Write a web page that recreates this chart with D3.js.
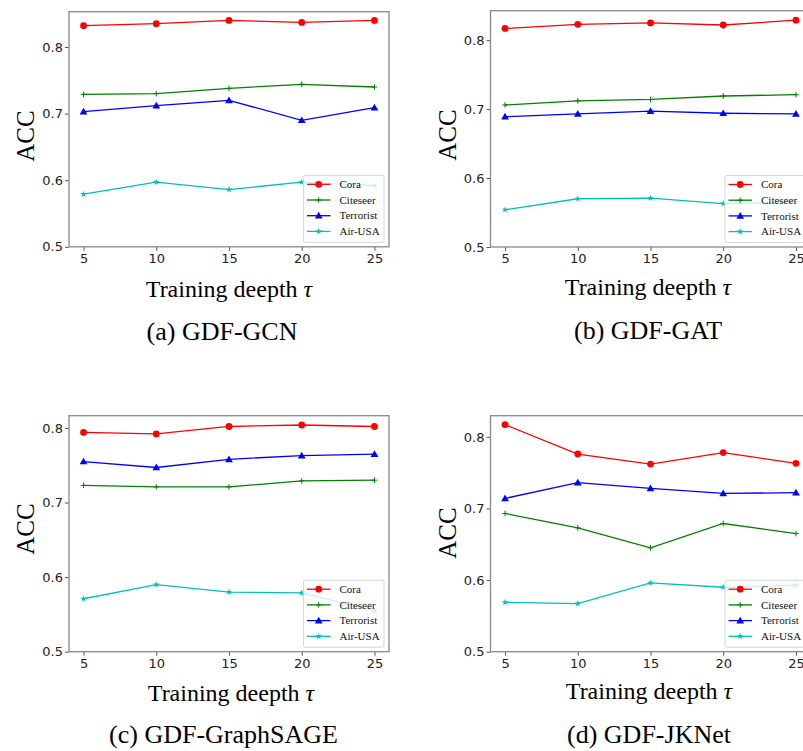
<!DOCTYPE html>
<html>
<head>
<meta charset="utf-8">
<script src="https://cdn.jsdelivr.net/npm/d3@7"></script>
<style>
  body { margin: 0; background: #fff; }
  svg { display: block; }
</style>
</head>
<body>
<svg width="803" height="751"></svg>
<script>
// 데이터: 학습 깊이(tau)별 정확도
var taus = [5, 10, 15, 20, 25];
var datasets = ["Cora", "Citeseer", "Terrorist", "Air-USA"];
var yTickValues = [0.5, 0.6, 0.7, 0.8];
var captions = ["(a) GDF-GCN", "(b) GDF-GAT", "(c) GDF-GraphSAGE", "(d) GDF-JKNet"];

// 각 행은 datasets 순서 (Cora, Citeseer, Terrorist, Air-USA)
var gcnAcc = [
  [0.832, 0.835, 0.840, 0.837, 0.840],
  [0.729, 0.730, 0.738, 0.744, 0.740],
  [0.703, 0.712, 0.720, 0.690, 0.709],
  [0.579, 0.597, 0.586, 0.597, 0.592]
];
var gatAcc = [
  [0.817, 0.823, 0.825, 0.822, 0.829],
  [0.706, 0.712, 0.714, 0.719, 0.721],
  [0.689, 0.693, 0.697, 0.694, 0.693],
  [0.554, 0.570, 0.571, 0.563, 0.565]
];
var sageAcc = [
  [0.794, 0.792, 0.802, 0.804, 0.802],
  [0.723, 0.721, 0.721, 0.729, 0.730],
  [0.755, 0.747, 0.758, 0.763, 0.765],
  [0.571, 0.590, 0.580, 0.579, 0.555]
];
var jkAcc = [
  [0.817, 0.776, 0.762, 0.778, 0.763],
  [0.693, 0.673, 0.645, 0.679, 0.665],
  [0.714, 0.736, 0.728, 0.721, 0.722],
  [0.569, 0.567, 0.596, 0.590, 0.593]
];

var colors = ["#ff0000", "#008000", "#0000ff", "#00bfbf"];

var svg = d3.select("svg");
svg.append("rect").attr("width", 803).attr("height", 751).attr("fill", "#fff");

// 패널 위치 (픽셀)
var panels = [
  {vals: gcnAcc,  left: 69,    right: 389,   top: 11.7,  bottom: 246.8, accY: 136, labX: 229, labY: 296.5, capX: 222, capY: 340},
  {vals: gatAcc,  left: 490.5, right: 810.5, top: 10.7,  bottom: 247,   accY: 135, labX: 648, labY: 295,   capX: 648, capY: 339},
  {vals: sageAcc, left: 69,    right: 389,   top: 415.7, bottom: 651.7, accY: 529, labX: 231, labY: 700.5, capX: 223.5, capY: 743},
  {vals: jkAcc,   left: 490.5, right: 810.5, top: 415.7, bottom: 651.7, accY: 533, labX: 649, labY: 699,   capX: 649, capY: 742.5}
];

// 마커 그리기
function drawMarker(g, k, x, y) {
  var c = colors[k];
  if (k === 0) {
    g.append("circle").attr("cx", x).attr("cy", y).attr("r", 3.4).attr("fill", c);
  } else if (k === 1) {
    g.append("path")
      .attr("d", "M" + (x - 2.8) + "," + y + "H" + (x + 2.8) + "M" + x + "," + (y - 2.8) + "V" + (y + 2.8))
      .attr("stroke", c).attr("stroke-width", 1);
  } else if (k === 2) {
    g.append("path")
      .attr("d", d3.symbol().type(d3.symbolTriangle).size(26)())
      .attr("transform", "translate(" + x + "," + (y + 0.6) + ")")
      .attr("fill", c);
  } else {
    g.append("path")
      .attr("d", d3.symbol().type(d3.symbolStar).size(14)())
      .attr("transform", "translate(" + x + "," + y + ")")
      .attr("fill", c);
  }
}

panels.forEach(function(p, i) {
  var all = [].concat.apply([], p.vals);
  var ymax = d3.max(all), ymin = d3.min(all);
  var yTop = ymax + 0.05 * (ymax - ymin);

  var xScale = d3.scaleLinear().domain([4, 26]).range([p.left, p.right]);
  var yScale = d3.scaleLinear().domain([0.5, yTop]).range([p.bottom, p.top]);

  var g = svg.append("g");

  // 축
  var xAxis = d3.axisBottom(xScale).tickValues(taus).tickSize(4).tickPadding(3).tickFormat(d3.format("d"));
  var yAxis = d3.axisLeft(yScale).tickValues(yTickValues).tickSize(4).tickPadding(2).tickFormat(d3.format(".1f"));

  var gx = g.append("g").attr("transform", "translate(0," + p.bottom + ")").call(xAxis);
  var gy = g.append("g").attr("transform", "translate(" + p.left + ",0)").call(yAxis);
  [gx, gy].forEach(function(ax) {
    ax.select(".domain").remove();
    ax.selectAll("line").attr("stroke", "#555").attr("stroke-width", 1);
    ax.selectAll("text").attr("font-family", "DejaVu Sans").attr("font-size", 13).attr("fill", "#222");
  });

  // 선과 마커
  var line = d3.line()
    .x(function(d, j) { return xScale(taus[j]); })
    .y(function(d) { return yScale(d); });

  p.vals.forEach(function(series, k) {
    g.append("path")
      .attr("d", line(series))
      .attr("fill", "none")
      .attr("stroke", colors[k])
      .attr("stroke-width", 1.3);
    series.forEach(function(v, j) {
      drawMarker(g, k, xScale(taus[j]), yScale(v));
    });
  });

  // 테두리
  g.append("rect")
    .attr("x", p.left).attr("y", p.top)
    .attr("width", p.right - p.left).attr("height", p.bottom - p.top)
    .attr("fill", "none").attr("stroke", "#888").attr("stroke-width", 1.3);

  // 범례 (오른쪽 아래)
  var lgW = 80.5, lgH = 67;
  var lgX = p.right - 5 - lgW, lgY = p.bottom - 4.5 - lgH;
  var lg = g.append("g").attr("transform", "translate(" + lgX + "," + lgY + ")");
  lg.append("rect")
    .attr("width", lgW).attr("height", lgH).attr("rx", 2)
    .attr("fill", "#fff").attr("fill-opacity", 0.8)
    .attr("stroke", "#d6d6d6").attr("stroke-width", 1);
  datasets.forEach(function(name, k) {
    var yy = 9 + k * 15.7;
    lg.append("line")
      .attr("x1", 3.5).attr("x2", 27).attr("y1", yy).attr("y2", yy)
      .attr("stroke", colors[k]).attr("stroke-width", 1.3);
    drawMarker(lg, k, 15.2, yy);
    lg.append("text")
      .attr("x", 36).attr("y", yy + 3.8)
      .attr("font-family", "Liberation Serif").attr("font-size", 11).attr("fill", "#111")
      .text(name);
  });

  // y축 라벨
  svg.append("text")
    .attr("transform", "translate(" + (p.left - 35) + "," + p.accY + ") rotate(-90)")
    .attr("text-anchor", "middle")
    .attr("font-family", "Liberation Serif").attr("font-size", 25).attr("fill", "#000")
    .text("ACC");

  // x축 라벨
  var xl = svg.append("text")
    .attr("x", p.labX).attr("y", p.labY)
    .attr("text-anchor", "middle")
    .attr("font-family", "Liberation Serif").attr("font-size", 24).attr("fill", "#000");
  xl.append("tspan").text("Training deepth ");
  xl.append("tspan").attr("font-style", "italic").text("τ");

  // 캡션
  svg.append("text")
    .attr("x", p.capX).attr("y", p.capY)
    .attr("text-anchor", "middle")
    .attr("font-family", "Liberation Serif").attr("font-size", 26).attr("fill", "#000")
    .text(captions[i]);
});
</script>
</body>
</html>
